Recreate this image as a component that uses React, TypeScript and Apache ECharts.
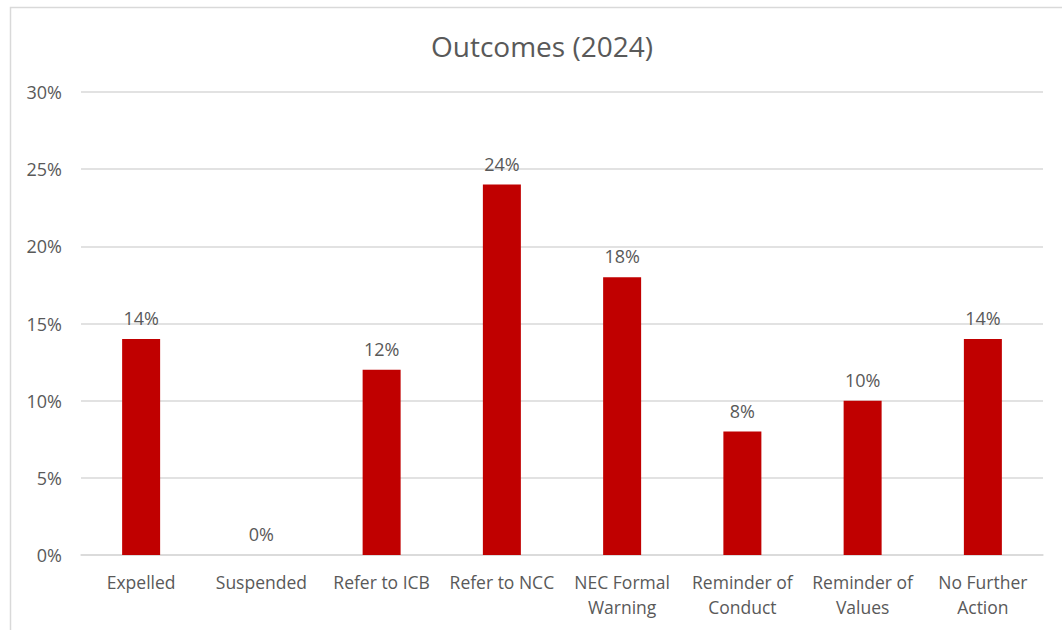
import React, { useEffect, useRef } from "react";
import * as echarts from "echarts";

const categories = [
  "Expelled",
  "Suspended",
  "Refer to ICB",
  "Refer to NCC",
  "NEC Formal\nWarning",
  "Reminder of\nConduct",
  "Reminder of\nValues",
  "No Further\nAction",
];
const values = [14, 0, 12, 24, 18, 8, 10, 14];
const yTicks = [0, 5, 10, 15, 20, 25, 30];
const title = "Outcomes (2024)";

const FONT = "'Open Sans', 'Noto Sans', sans-serif";
const TEXT = "#595959";

export default function App() {
  const ref = useRef<HTMLDivElement>(null);
  useEffect(() => {
    document.body.style.margin = "0";
    const chart = echarts.init(ref.current!, null, { renderer: "svg" });
    chart.setOption({
      animation: false,
      backgroundColor: "#ffffff",
      title: {
        text: title,
        left: 426,
        top: 27,
        textStyle: { fontFamily: FONT, fontSize: 28, fontWeight: "normal", color: TEXT },
      },
      graphic: [
        {
          type: "rect",
          shape: { x: 10.5, y: 7.5, width: 1100, height: 700 },
          style: { fill: "none", stroke: "#D9D9D9", lineWidth: 1.5 },
          silent: true,
        },
      ],
      grid: { left: 81, right: 19, top: 92, bottom: 75, containLabel: false },
      xAxis: {
        type: "category",
        data: categories,
        axisLine: { show: true, lineStyle: { color: "#D9D9D9", width: 1.5 } },
        axisTick: { show: false },
        axisLabel: {
          fontFamily: FONT,
          fontSize: 17.5,
          color: TEXT,
          margin: 14,
          lineHeight: 25,
          interval: 0,
        },
      },
      yAxis: {
        type: "value",
        min: yTicks[0],
        max: yTicks[yTicks.length - 1],
        interval: 5,
        axisLine: { show: false },
        axisTick: { show: false },
        splitLine: { lineStyle: { color: "#D9D9D9", width: 1.5 } },
        axisLabel: {
          fontFamily: FONT,
          fontSize: 18,
          color: TEXT,
          margin: 19,
          formatter: (v: number) => `${v}%`,
        },
      },
      series: [
        {
          type: "bar",
          data: values,
          barWidth: 38,
          itemStyle: { color: "#C00000" },
          label: {
            show: true,
            position: "top",
            distance: 12,
            fontFamily: FONT,
            fontSize: 18,
            color: TEXT,
            formatter: (p: any) => `${p.value}%`,
          },
        },
      ],
    });
    return () => chart.dispose();
  }, []);
  return <div ref={ref} style={{ width: 1062, height: 630 }} />;
}
